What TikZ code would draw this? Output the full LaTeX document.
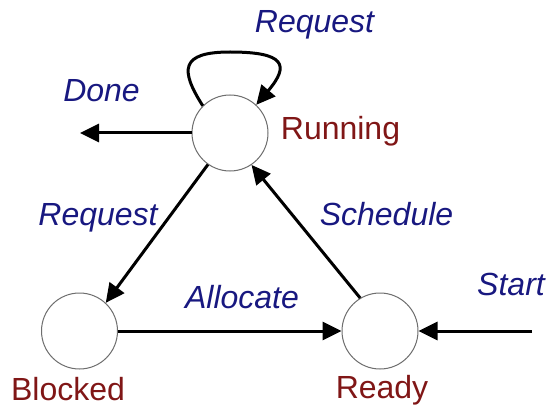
\documentclass[tikz,border=0pt]{standalone}
\usepackage{fontspec}
\setmainfont{Liberation Sans}
\usetikzlibrary{arrows.meta}
\definecolor{labelblue}{RGB}{24,24,128}
\definecolor{statered}{RGB}{128,22,22}
\definecolor{ringgray}{RGB}{110,110,110}
\begin{document}
\begin{tikzpicture}[x=1pt,y=-1pt,
  state/.style={circle,draw=ringgray,line width=1pt,fill=white,minimum size=76pt,inner sep=0pt},
  statename/.style={anchor=base,text=statered,font=\fontsize{32}{38}\selectfont},
  evlabel/.style={anchor=base,text=labelblue,font=\fontsize{32}{38}\selectfont\itshape},
  trans/.style={line width=3pt,-{Triangle[length=19pt,width=18pt]}}]
\useasboundingbox (0,0) rectangle (551,406);
% states
\node[state] (run) at (230,133) {};
\node[state] (blk) at (79.5,331) {};
\node[state] (rdy) at (380,331) {};
% free ends
\coordinate (done) at (80,133);
\coordinate (start) at (532,331);
% transitions
\draw[trans] (run.west) -- (done);
\draw[trans] (start) -- (rdy.east);
\draw[trans] (blk.east) -- (rdy.west);
\draw[trans] (run.235) -- (blk.47);
\draw[trans] (rdy.121) -- (run.304);
\draw[trans] (run.135) .. controls (180,70) and (180,52) .. (230,52)
                       .. controls (285,52) and (290,65) .. (run.47);
% state names
\node[statename] (nrun) at (340.5,140) {Running};
\node[statename] (nblk) at (68,400) {Blocked};
\node[statename] (nrdy) at (382,398) {Ready};
% event labels
\node[evlabel] (lreq1) at (314.5,33) {Request};
\node[evlabel] (ldone) at (101.5,102) {Done};
\node[evlabel] (lreq2) at (98,225) {Request};
\node[evlabel] (lsch) at (386.5,225) {Schedule};
\node[evlabel] (lall) at (242,308) {Allocate};
\node[evlabel] (lsta) at (511,295) {Start};
\end{tikzpicture}
\end{document}
